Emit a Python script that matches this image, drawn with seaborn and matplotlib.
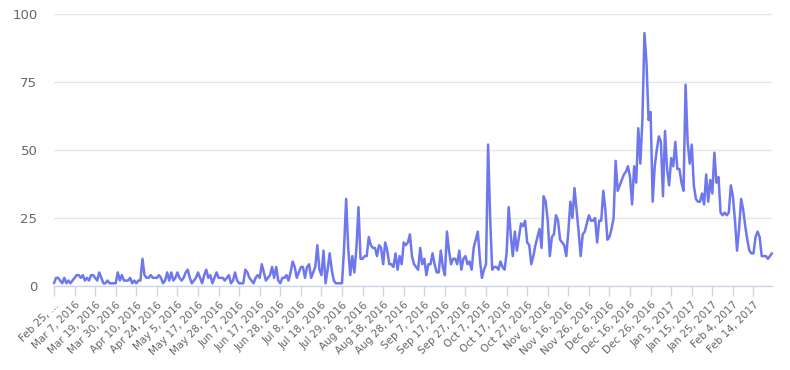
import pandas as pd
import seaborn as sns
from matplotlib import pyplot as plt

# tick labels, one every 10 categories
tick_labels = ["Feb 25, ...", "Mar 7, 2016", "Mar 19, 2016", "Mar 30, 2016", "Apr 10, 2016",
               "Apr 24, 2016", "May 5, 2016", "May 17, 2016", "May 28, 2016", "Jun 7, 2016",
               "Jun 17, 2016", "Jun 28, 2016", "Jul 8, 2016", "Jul 18, 2016", "Jul 29, 2016",
               "Aug 8, 2016", "Aug 18, 2016", "Aug 28, 2016", "Sep 7, 2016", "Sep 17, 2016",
               "Sep 27, 2016", "Oct 7, 2016", "Oct 17, 2016", "Oct 27, 2016", "Nov 6, 2016",
               "Nov 16, 2016", "Nov 26, 2016", "Dec 6, 2016", "Dec 16, 2016", "Dec 26, 2016",
               "Jan 5, 2017", "Jan 15, 2017", "Jan 25, 2017", "Feb 4, 2017", "Feb 14, 2017"]

# daily counts
values = [
    1, 3, 3, 2, 1, 3, 1, 2, 1, 2,
    3, 4, 4, 3, 4, 2, 3, 2, 4, 4,
    3, 2, 5, 3, 1, 1, 2, 1, 1, 1,
    1, 5, 2, 4, 2, 2, 2, 3, 1, 2,
    1, 2, 2, 10, 4, 3, 3, 4, 3, 3,
    3, 4, 3, 1, 2, 5, 2, 5, 2, 3,
    5, 3, 2, 3, 5, 6, 3, 1, 2, 3,
    5, 3, 1, 4, 6, 3, 4, 1, 3, 5,
    3, 3, 3, 2, 3, 4, 1, 2, 5, 2,
    1, 1, 1, 6, 5, 3, 2, 1, 3, 4,
    3, 8, 5, 2, 3, 4, 7, 3, 7, 2,
    1, 3, 3, 4, 2, 5, 9, 7, 3, 5,
    7, 7, 3, 7, 8, 3, 5, 7, 15, 6,
    4, 13, 1, 6, 12, 6, 2, 1, 1, 1,
    1, 14, 32, 14, 4, 11, 5, 14, 29, 10,
    10, 11, 11, 18, 15, 14, 14, 11, 15, 14,
    8, 16, 13, 8, 8, 7, 12, 6, 11, 8,
    16, 15, 16, 19, 11, 8, 7, 6, 14, 8,
    10, 4, 8, 8, 12, 8, 5, 5, 13, 7,
    4, 20, 13, 8, 10, 10, 8, 13, 6, 10,
    11, 8, 9, 6, 14, 17, 20, 10, 3, 6,
    8, 52, 25, 6, 7, 7, 6, 9, 7, 6,
    12, 29, 19, 11, 20, 13, 18, 23, 22, 24,
    16, 15, 8, 11, 15, 18, 21, 14, 33, 31,
    24, 11, 18, 19, 26, 24, 17, 16, 15, 11,
    20, 31, 25, 36, 28, 20, 11, 19, 20, 23,
    26, 24, 24, 25, 16, 24, 24, 35, 28, 17,
    18, 21, 25, 46, 35, 37, 39, 41, 42, 44,
    40, 30, 44, 38, 58, 45, 61, 93, 82, 61,
    64, 31, 44, 50, 55, 53, 33, 57, 43, 37,
    47, 44, 53, 43, 43, 38, 35, 74, 53, 45,
    52, 37, 32, 31, 31, 34, 30, 41, 31, 39,
    34, 49, 38, 40, 27, 26, 27, 26, 27, 37,
    33, 24, 13, 21, 32, 28, 22, 17, 13, 12,
    12, 18, 20, 18, 11, 11, 11, 10, 11, 12,
]

df = pd.DataFrame({"idx": range(len(values)), "count": values})

sns.set_theme(style="white")
plt.rcParams["font.family"] = ["DejaVu Sans"]

fig = plt.figure(figsize=(7.9, 3.7), dpi=100)
ax = fig.add_axes([54 / 790, 1 - 286 / 370, 718 / 790, 272 / 370])

sns.lineplot(data=df, x="idx", y="count", color="#6e77ed", linewidth=1.8, ax=ax, clip_on=False)

ax.set_xlim(0, len(values) - 1)
ax.set_ylim(0, 100)
ax.set_yticks([0, 25, 50, 75, 100])
ax.yaxis.grid(True, color="#e6e6e6", linewidth=1)
ax.set_axisbelow(True)

ax.set_xticks(range(0, len(values), 10))
ax.set_xticklabels(tick_labels, rotation=45, ha="right", rotation_mode="anchor")

for side in ["top", "right", "left"]:
    ax.spines[side].set_visible(False)
ax.spines["bottom"].set_color("#ccd6eb")
ax.spines["bottom"].set_linewidth(1)

ax.tick_params(axis="x", length=7, width=1, color="#ccd6eb", labelsize=7.5,
               labelcolor="#666666", pad=3, bottom=True, direction="out")
ax.tick_params(axis="y", length=0, labelsize=9.5, labelcolor="#666666", pad=12)
ax.set_xlabel("")
ax.set_ylabel("")

plt.savefig("out.png", dpi=100)
